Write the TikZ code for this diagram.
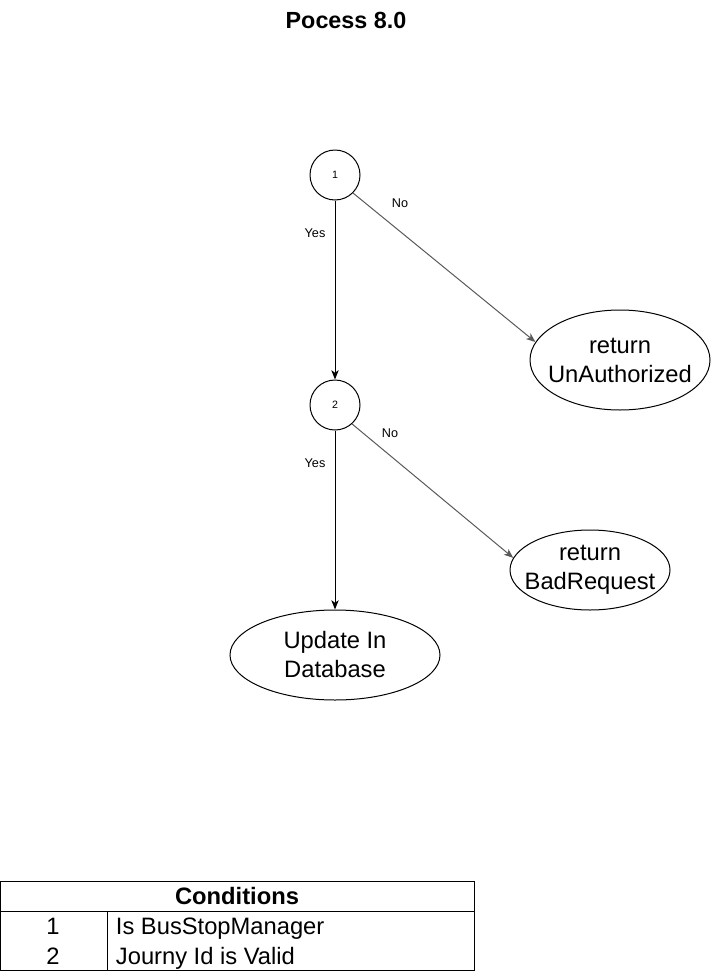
\documentclass[tikz,border=0pt]{standalone}
\usepackage{fontspec}
\setmainfont{Liberation Sans}
\usetikzlibrary{arrows.meta, shapes.geometric}
\definecolor{edgegray}{RGB}{89,89,89}

\begin{document}
\begin{tikzpicture}[
    x=0.75pt, y=-0.75pt, line width=0.75pt,
    check/.style={circle, draw, minimum size=37.5pt, inner sep=0pt, font=\fontsize{8}{9}\selectfont},
    oval/.style={ellipse, draw, inner sep=0pt},
    ovaltext/.style={font=\fontsize{17.8}{21.75}\selectfont, align=center},
    branch/.style={font=\fontsize{9.5}{11}\selectfont},
    cell/.style={font=\fontsize{17.8}{21}\selectfont, text height=16pt, text depth=3.2pt, inner ysep=0pt},
    arrow/.style={-{Stealth[length=7pt, width=5.5pt, inset=2pt]}},
    noarrow/.style={arrow, edgegray}
]
    \useasboundingbox (0,0) rectangle (711,971);

    % Title
    \node[font=\fontsize{17.5}{20}\selectfont\bfseries] (title) at (346,20) {Pocess 8.0};

    % Decision points
    \node[check] (c1) at (335,175) {1};
    \node[check] (c2) at (335,405) {2};

    % Outcomes
    \node[oval, minimum width=135pt, minimum height=75pt,
          label={[ovaltext]center:return\\UnAuthorized}] (unauth) at (620,360) {};
    \node[oval, minimum width=120pt, minimum height=60pt,
          label={[ovaltext]center:return\\BadRequest}] (badreq) at (590,570) {};
    \node[oval, minimum width=157.5pt, minimum height=67.5pt,
          label={[ovaltext]center:Update In\\Database}] (update) at (335,655) {};

    % --- Yes branches ---
    \draw[arrow] (c1) -- (c2);
    \node[branch] (yes1) at (315,233) {Yes};
    \draw[arrow] (c2) -- (update);
    \node[branch] (yes2) at (315,463) {Yes};

    % --- No branches ---
    \draw[noarrow] (c1.-45) -- (unauth.168);
    \node[branch] (no1) at (400,203) {No};
    \draw[noarrow] (c2.-48) -- (badreq.171);
    \node[branch] (no2) at (390,433) {No};

    % Conditions table
    \draw (0.5,881) rectangle (474,970);
    \draw (0.5,911) -- (474,911);
    \draw (107,911) -- (107,970);
    \node[cell, font=\fontsize{17.8}{21}\selectfont\bfseries] (cond) at (237,896) {Conditions};
    \node[cell] (n1) at (53,926) {1};
    \node[cell] (n2) at (53,956) {2};
    \node[cell, anchor=west] (t1) at (111,926) {Is BusStopManager};
    \node[cell, anchor=west] (t2) at (111,956) {Journy Id is Valid};

\end{tikzpicture}
\end{document}
